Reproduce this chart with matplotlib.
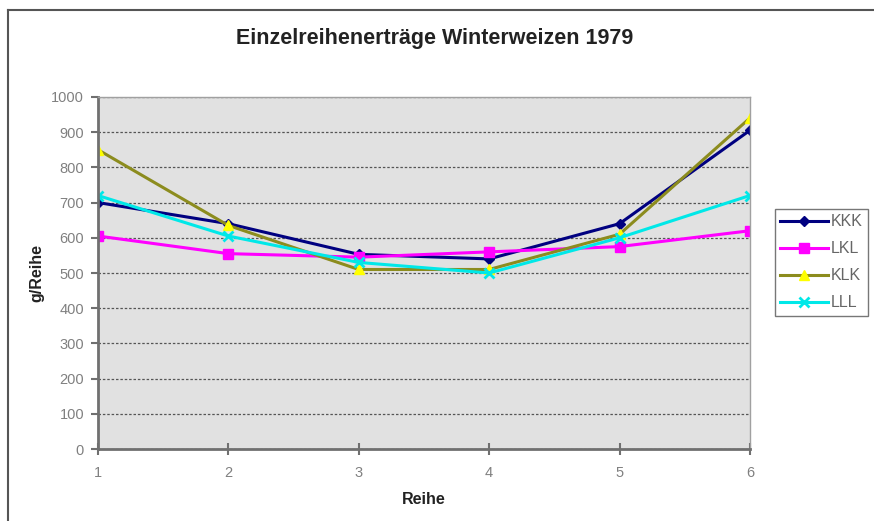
import matplotlib
matplotlib.use('Agg')
import matplotlib.pyplot as plt
from matplotlib.lines import Line2D

plt.rcParams['font.family'] = ['Liberation Sans', 'DejaVu Sans']

reihe = [1, 2, 3, 4, 5, 6]
kkk = [700, 640, 553, 540, 640, 905]
lkl = [605, 555, 545, 560, 575, 620]
klk = [850, 635, 510, 510, 610, 940]
lll = [720, 605, 530, 500, 600, 720]

fig = plt.figure(figsize=(8.74, 5.21), dpi=100)
ax = fig.add_axes([0.1121, 0.138, 0.7459, 0.676])
ax.set_facecolor('#e1e1e1')

ax.plot(reihe, kkk, color='#000080', lw=2.2, marker='D', ms=5, mfc='#000080', mec='#000080', label='KKK')
ax.plot(reihe, lkl, color='#ff00ff', lw=2.2, marker='s', ms=7, mfc='#ff00ff', mec='#ff00ff', label='LKL')
ax.plot(reihe, klk, color='#8c8c1e', lw=2.2, marker='^', ms=7, mfc='#ffff00', mec='#ffff00', label='KLK')
ax.plot(reihe, lll, color='#00e8e8', lw=2.2, marker='x', ms=7, mew=2, mec='#00e8e8', label='LLL')

ax.set_xlim(1, 6)
ax.set_ylim(0, 1000)
ax.set_xticks(reihe)
ax.set_yticks(range(0, 1001, 100))
ax.yaxis.grid(True, ls=(0, (2, 1.5)), color='#555555', lw=0.9)
ax.set_axisbelow(True)
for s in ['left', 'bottom']:
    ax.spines[s].set_color('#707070')
    ax.spines[s].set_linewidth(2)
for s in ['top', 'right']:
    ax.spines[s].set_color('#a0a0a0')
    ax.spines[s].set_linewidth(1)
ax.tick_params(axis='y', direction='out', length=5, width=1.5, color='#707070',
               labelsize=10.5, labelcolor='#808080', pad=5)
ax.tick_params(axis='x', direction='inout', length=8, width=1.5, color='#707070',
               labelsize=10.5, labelcolor='#808080', pad=8)

ax.set_xlabel('Reihe', fontsize=11.5, fontweight='bold', color='#222222', labelpad=9)
ax.set_ylabel('g/Reihe', fontsize=11.5, fontweight='bold', color='#222222', labelpad=5)
fig.text(0.497, 0.927, 'Einzelreihenerträge Winterweizen 1979', ha='center', va='center',
         fontsize=15.5, fontweight='bold', color='#222222')

leg = ax.legend(loc='center left', bbox_to_anchor=(1.038, 0.53), frameon=True, fancybox=False,
                edgecolor='#555555', fontsize=11.5, handlelength=3.0, handletextpad=0.15,
                borderpad=0.35, labelspacing=0.75, borderaxespad=0)
for t in leg.get_texts():
    t.set_color('#666666')
leg.get_frame().set_linewidth(1)

# outer frame, only left and top edges are visible
fig.add_artist(Line2D([0.0092, 0.0092], [0, 0.981], transform=fig.transFigure, color='#555555', lw=1.5))
fig.add_artist(Line2D([0.0092, 1], [0.981, 0.981], transform=fig.transFigure, color='#555555', lw=1.5))

fig.savefig('out.png', dpi=100)
